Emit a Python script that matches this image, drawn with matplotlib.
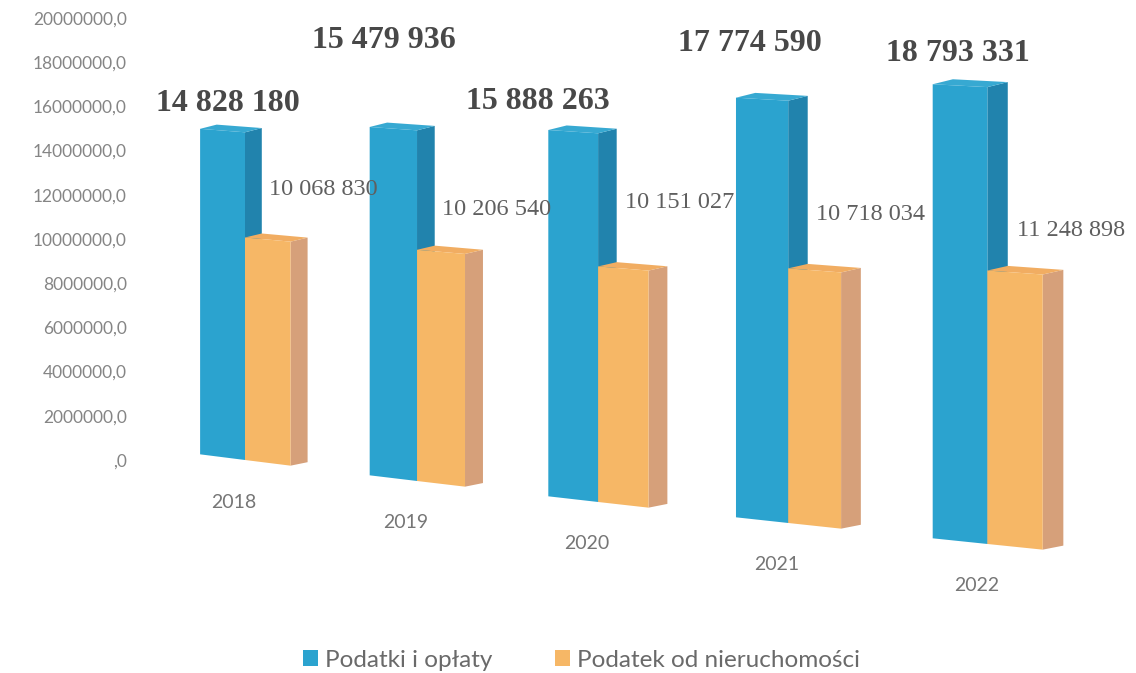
import numpy as np
import matplotlib
matplotlib.use('Agg')
import matplotlib.pyplot as plt
from matplotlib.patches import Polygon, Patch

years = ['2018', '2019', '2020', '2021', '2022']
podatki = [14828180, 15479936, 15888263, 17774590, 18793331]      # Podatki i opłaty
nieruch = [10068830, 10206540, 10151027, 10718034, 11248898]      # Podatek od nieruchomości
yticks = [0, 2000000, 4000000, 6000000, 8000000, 10000000,
          12000000, 14000000, 16000000, 18000000, 20000000]

# label nudges in pixels (excel put them wherever it liked)
blue_dx = [5, -9, -35, -12, -2]
blue_dy = [27, 88, 30, 56, 32]
orange_dy = [50, 42, 66, 56, 42]

BLUE = ('#2ba3cf', '#2183ad', '#37a9d2')
ORANGE = ('#f6b766', '#d6a07a', '#f1ad62')

plt.rcParams['font.family'] = 'Lato'

# scanned page is skewed / in perspective -> warp the data plane a bit
KX, KY, DROP = 0.027, 0.025, 0.95e6


def proj(x, y):
    return x + KX * x * x, y * (1 + KY * x) - DROP * x


def box(ax, x0, w, v, cols, depth=0.1, rise=0.25e6):
    x1 = x0 + w
    cf, cs, ct = cols
    faces = [([(x1, 0), (x1 + depth, rise), (x1 + depth, v + rise), (x1, v)], cs),
             ([(x0, v), (x1, v), (x1 + depth, v + rise), (x0 + depth, v + rise)], ct),
             ([(x0, 0), (x1, 0), (x1, v), (x0, v)], cf)]
    for pts, c in faces:
        ax.add_patch(Polygon([proj(px, py) for px, py in pts], closed=True,
                             fc=c, ec='none'))


fig = plt.figure(figsize=(11.36, 6.73), dpi=100)
ax = fig.add_axes([145 / 1136, 0, 991 / 1136, 1])
ax.set_xlim(-100 / 167.5, 891 / 167.5)
ax.set_ylim(-213 / 22.1 * 1e6, 460 / 22.1 * 1e6)
for s in ax.spines.values():
    s.set_visible(False)
ax.set_xticks([])
ax.set_yticks(yticks)
ax.set_yticklabels([',0'] + ['%d,0' % t for t in yticks[1:]])
ax.tick_params(axis='y', length=0, pad=13, labelsize=12.5, labelcolor='#858585')

W = 0.27
for i in range(len(years)):
    box(ax, i - W, W, podatki[i], BLUE)
    box(ax, i, W, nieruch[i], ORANGE)

    lbl = '{:,}'.format(podatki[i]).replace(',', ' ')
    ax.annotate(lbl, xy=proj(i - W / 2, podatki[i]), xytext=(blue_dx[i], blue_dy[i]),
                textcoords='offset pixels', ha='center', va='center',
                family='Liberation Serif', weight='bold', fontsize=23, color='#484848')
    lbl = '{:,}'.format(nieruch[i]).replace(',', ' ')
    ax.annotate(lbl, xy=proj(i + W / 2, nieruch[i]), xytext=(56, orange_dy[i]),
                textcoords='offset pixels', ha='center', va='center',
                family='Liberation Serif', fontsize=17.5, color='#5f5f5f')
    ax.annotate(years[i], xy=proj(i, 0), xytext=(-11, -42),
                textcoords='offset pixels', ha='center', va='center',
                fontsize=14, color='#767676')

fig.legend(handles=[Patch(fc=BLUE[0]), Patch(fc=ORANGE[0])],
           labels=['Podatki i opłaty', 'Podatek od nieruchomości'],
           loc='center', bbox_to_anchor=(0.512, 0.019), ncol=2, frameon=False,
           fontsize=17.5, handlelength=0.6, handleheight=0.6, columnspacing=2.6,
           handletextpad=0.3, labelcolor='#6a6a6a')

fig.savefig('out.png', dpi=100)
